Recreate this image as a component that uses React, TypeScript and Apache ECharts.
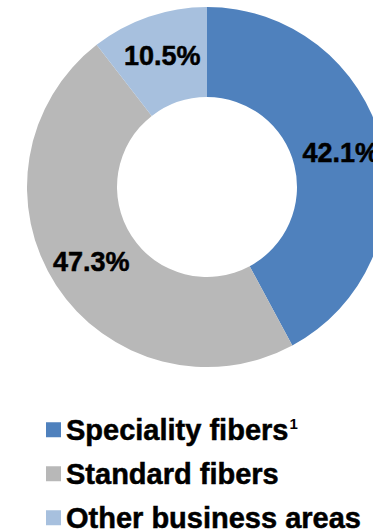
import React, { useEffect, useRef } from "react";
import * as echarts from "echarts";

// Business segment shares (%)
const segments = ["Speciality fibers", "Standard fibers", "Other business areas"];
const shares = [42.1, 47.3, 10.5];
const colors = ["#4F81BD", "#B8B8B8", "#A7C0DE"];

const FONT = '"Liberation Sans", Arial, Helvetica, sans-serif';

// One legend row per segment, stacked under the donut
const legendRowTops = [415, 459, 503];

export default function App() {
  const ref = useRef<HTMLDivElement>(null);

  useEffect(() => {
    if (!ref.current) return;
    const chart = echarts.init(ref.current, null, { renderer: "svg" });
    const legends = segments.map((name, i) => ({
      orient: "horizontal",
      left: 46,
      top: legendRowTops[i],
      padding: 0,
      itemWidth: 15,
      itemHeight: 15,
      itemGap: 0,
      icon: "rect",
      selectedMode: false,
      data: [name],
      formatter: (n: string) =>
        n === "Speciality fibers" ? `{b|${n}}{s|1}` : `{b|${n}}`,
      textStyle: {
        rich: {
          b: {
            fontFamily: FONT,
            fontSize: 29,
            fontWeight: "bold",
            color: "#000000",
            lineHeight: 28,
            textBorderColor: "#000000",
            textBorderWidth: 0.5,
          },
          s: {
            fontFamily: FONT,
            fontSize: 15,
            fontWeight: "bold",
            color: "#000000",
            lineHeight: 24,
            verticalAlign: "top",
            padding: [0, 0, 0, 1],
          },
        },
      },
    }));

    chart.setOption({
      animation: false,
      backgroundColor: "#ffffff",
      color: colors,
      legend: legends,
      series: [
        {
          type: "pie",
          center: [207, 187],
          radius: [90, 180],
          startAngle: 90,
          clockwise: true,
          avoidLabelOverlap: false,
          label: {
            show: true,
            position: "inside",
            formatter: (p: any) => `${Number(p.value).toFixed(1)}%`,
            fontFamily: FONT,
            fontSize: 27,
            fontWeight: "bold",
            color: "#000000",
            textBorderColor: "#000000",
            textBorderWidth: 0.5,
          },
          labelLine: { show: false },
          emphasis: { disabled: true },
          data: segments.map((name, i) => ({ name, value: shares[i] })),
        },
      ],
    });
    return () => chart.dispose();
  }, []);

  return (
    <div
      ref={ref}
      style={{ position: "fixed", left: 0, top: 0, width: 373, height: 531 }}
    />
  );
}
